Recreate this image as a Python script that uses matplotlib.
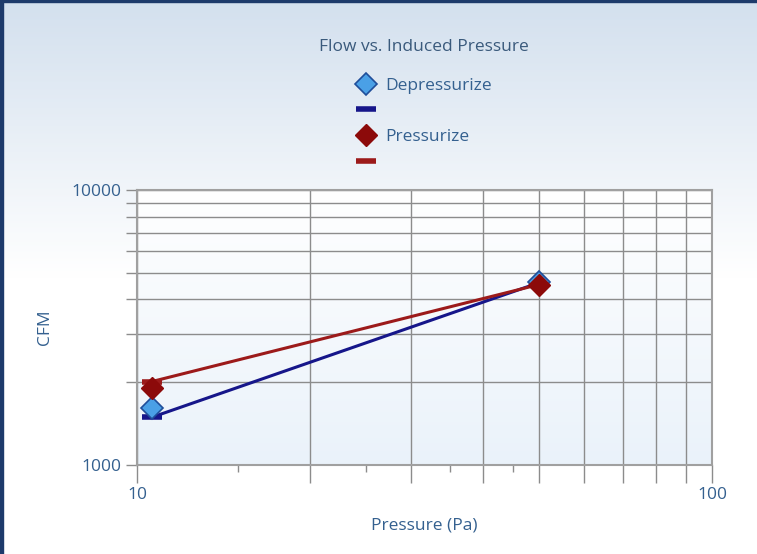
import numpy as np
import matplotlib
matplotlib.use('Agg')
import matplotlib.pyplot as plt
from matplotlib.lines import Line2D
from matplotlib.patches import Rectangle
from matplotlib.colors import LinearSegmentedColormap
from matplotlib.ticker import FixedLocator, NullFormatter, FuncFormatter

plt.rcParams['font.family'] = ['Open Sans', 'DejaVu Sans']

# data
pressure = [10.6, 50]
depress_cfm = [1615, 4625]
depress_fit = [1490, 4600]
press_cfm = [1900, 4510]
press_fit = [2010, 4530]

title = 'Flow vs. Induced Pressure'
txt_col = '#34608f'
navy = '#16168a'
blue_face = '#4aa0e6'
red = '#8c0a0a'
red_line = '#9c1a1a'

fig = plt.figure(figsize=(7.57, 5.54), dpi=100)

# figure background gradient
bg = fig.add_axes([0, 0, 1, 1], zorder=-10)
grad = np.linspace(0, 1, 256).reshape(-1, 1)
cm_bg = LinearSegmentedColormap.from_list('bg', [(0, '#d3e0ee'), (0.5, '#ffffff'), (1, '#ffffff')])
bg.imshow(grad, aspect='auto', cmap=cm_bg, extent=[0, 1, 0, 1])
bg.set_axis_off()
fig.patches.append(Rectangle((0, 0), 0.004, 1, transform=fig.transFigure, color='#1d3a6b', zorder=5))
fig.patches.append(Rectangle((0, 0.996), 1, 0.004, transform=fig.transFigure, color='#1d3a6b', zorder=5))

ax = fig.add_axes([137/757, 1-465/554, 575/757, 275/554])
ax.set_xscale('log')
ax.set_yscale('log')
ax.patch.set_visible(False)
cm_ax = LinearSegmentedColormap.from_list('ax', ['#ffffff', '#eaf2fa'])
ax.imshow(grad, aspect='auto', cmap=cm_ax, extent=[0, 1, 0, 1], transform=ax.transAxes, zorder=0)

ax.plot(pressure, depress_fit, color=navy, lw=2.2, marker='_', ms=14, mew=4, zorder=3)
ax.plot(pressure, press_fit, color=red_line, lw=2.2, marker='_', ms=14, mew=4, zorder=3)
ax.plot(pressure, depress_cfm, ls='none', marker='D', ms=11, mfc=blue_face, mec='#1f4e9a', mew=1.2, zorder=4)
ax.plot(pressure, press_cfm, ls='none', marker='D', ms=11, mfc=red, mec=red, zorder=5)

ax.set_xlim(10, 100)
ax.set_ylim(1000, 10000)

xmaj = [10, 20, 30, 40, 50, 60, 70, 80, 90, 100]
ymaj = [1000, 2000, 3000, 4000, 5000, 6000, 7000, 8000, 9000, 10000]
ax.xaxis.set_major_locator(FixedLocator(xmaj))
ax.xaxis.set_minor_locator(FixedLocator([15, 25, 35, 45]))
ax.yaxis.set_major_locator(FixedLocator(ymaj))
ax.yaxis.set_minor_locator(FixedLocator([]))
ax.xaxis.set_major_formatter(FuncFormatter(lambda v, p: '%d' % v if v in (10, 100) else ''))
ax.yaxis.set_major_formatter(FuncFormatter(lambda v, p: '%d' % v if v in (1000, 10000) else ''))
ax.xaxis.set_minor_formatter(NullFormatter())

ax.grid(True, which='major', color='#8c8c8c', lw=1, zorder=1)
ax.set_axisbelow(True)
ax.tick_params(axis='x', which='major', length=13, width=1, color='#8c8c8c', pad=3, labelsize=12.5, labelcolor=txt_col)
ax.tick_params(axis='x', which='minor', length=5, width=1, color='#8c8c8c')
ax.tick_params(axis='y', which='major', length=8, width=1, color='#8c8c8c', pad=3, labelsize=12.5, labelcolor=txt_col)
for s in ax.spines.values():
    s.set_color('#a0a0a0')
    s.set_linewidth(1.5)

ax.set_xlabel('Pressure (Pa)', fontsize=12.5, color=txt_col)
ax.xaxis.set_label_coords(0.5, -52/275)
ax.set_ylabel('CFM', fontsize=12.5, color=txt_col)
ax.yaxis.set_label_coords(-84/575, 0.5)

fig.text(424/757, 1-47/554, title, ha='center', va='center', fontsize=12.5, color='#3a5a7c')

handles = [
    Line2D([], [], ls='none', marker='D', ms=11, mfc=blue_face, mec='#1f4e9a', mew=1.2),
    Line2D([], [], ls='none', marker='_', ms=14, mew=4, color=navy),
    Line2D([], [], ls='none', marker='D', ms=11, mfc=red, mec=red),
    Line2D([], [], ls='none', marker='_', ms=14, mew=4, color=red_line),
]
fig.legend(handles, ['Depressurize', '', 'Pressurize', ''], loc='upper center',
           bbox_to_anchor=(424/757, 1-62/554), frameon=False, fontsize=12.5,
           labelcolor=txt_col, handlelength=1.2, handletextpad=0.5, labelspacing=0.55)

fig.savefig('out.png', dpi=100)
